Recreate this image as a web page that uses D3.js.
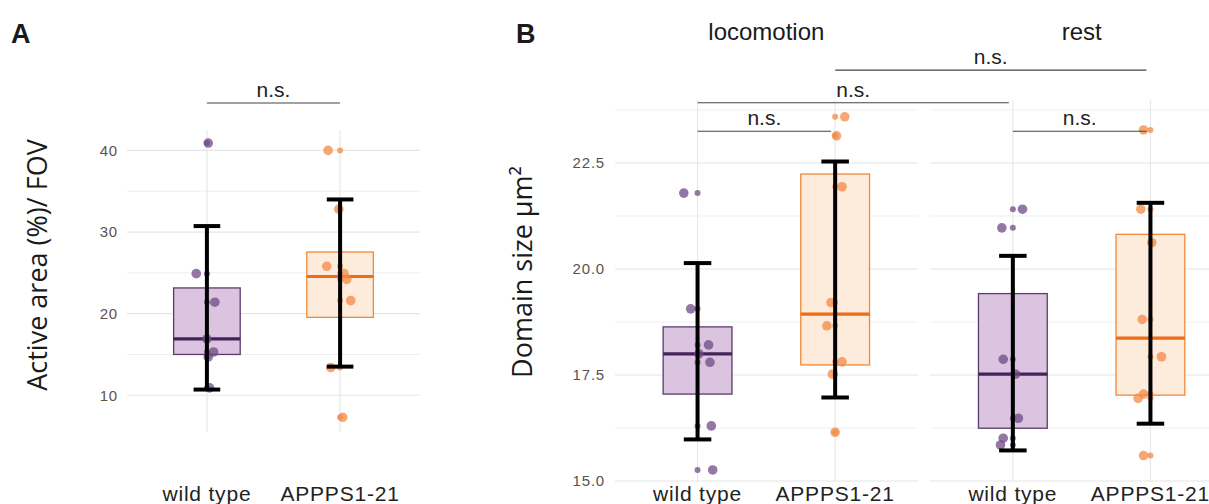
<!DOCTYPE html>
<html>
<head>
<meta charset="utf-8">
<script src="https://cdn.jsdelivr.net/npm/d3@7"></script>
<style>
  html, body { margin: 0; padding: 0; background: #fff; }
  svg { display: block; }
</style>
</head>
<body>
<svg id="chart" width="1209" height="504"></svg>
<script>
// ---------- DATA ----------
const groups = ["wild type", "APPPS1-21"];
const facets = ["locomotion", "rest"];

// Panel A: active area (%) / FOV
const activeWT  = [40.9, 24.9, 21.4, 16.9, 15.3, 14.7, 10.9];
const activeAPP = [40.0, 32.8, 25.8, 24.9, 24.2, 21.6, 13.4, 7.3];
// jitter of each point, in fractions of one category step
const jitActiveWT  = [0.01, -0.08, 0.06, 0.0, 0.05, 0.01, 0.02];
const jitActiveAPP = [-0.09, -0.01, -0.10, 0.03, 0.05, 0.08, -0.07, 0.02];

// Panel B: domain size (µm²)
const domainLocoWT  = [21.79, 19.06, 18.21, 18.0, 17.80, 16.30, 15.26];
const domainLocoAPP = [23.59, 23.14, 21.94, 19.21, 18.66, 17.81, 17.52, 16.15];
const domainRestWT  = [21.41, 20.97, 17.87, 17.52, 16.48, 16.01, 15.85];
const domainRestAPP = [23.28, 21.41, 20.62, 18.81, 17.93, 17.05, 16.95, 15.60];
const jitLocoWT  = [-0.10, -0.05, 0.08, 0.01, 0.09, 0.10, 0.11];
const jitLocoAPP = [0.07, 0.01, 0.05, -0.03, -0.06, 0.05, -0.02, 0.0];
const jitRestWT  = [0.07, -0.08, -0.07, 0.02, 0.04, -0.07, -0.09];
const jitRestAPP = [-0.05, -0.07, 0.01, -0.06, 0.08, -0.05, -0.09, -0.05];

// axis ticks
const ticksA = [10, 20, 30, 40];
const minorA = [15, 25, 35];
const ticksB = [15, 17.5, 20, 22.5];
const minorB = [16.25, 18.75, 21.25, 23.75];

// significance annotations
const sigA = [{ from: "wild type", to: "APPPS1-21", level: 45.8, label: "n.s." }];
const sigB = [
  { from: ["locomotion", "wild type"], to: ["locomotion", "APPPS1-21"], level: 23.25, label: "n.s." },
  { from: ["rest", "wild type"], to: ["rest", "APPPS1-21"], level: 23.25, label: "n.s." },
  { from: ["locomotion", "wild type"], to: ["rest", "wild type"], level: 23.92, label: "n.s." },
  { from: ["locomotion", "APPPS1-21"], to: ["rest", "APPPS1-21"], level: 24.69, label: "n.s." }
];

// ---------- STYLE ----------
const col = {
  "wild type": { fill: "#dbc4df", stroke: "#5a3b6c", median: "#44235a", point: "#6f4a85" },
  "APPPS1-21": { fill: "#fdebdb", stroke: "#f2883a", median: "#ee6c14", point: "#f28a45" }
};
const SANS = "'Liberation Sans', Arial, sans-serif";
const TITLE = "'Open Sans', sans-serif";

const svg = d3.select("#chart");

function stats(vals) {
  const s = vals.slice().sort(d3.ascending);
  const m = d3.mean(s), sd = d3.deviation(s);
  return {
    q1: d3.quantile(s, 0.25), med: d3.quantile(s, 0.5), q3: d3.quantile(s, 0.75),
    lo: m - sd, hi: m + sd
  };
}

function drawGrid(g, y, x0, x1, yTop, yBot, majors, minors, centers) {
  g.selectAll(null).data(minors).join("line")
    .attr("x1", x0).attr("x2", x1).attr("y1", d => y(d)).attr("y2", d => y(d))
    .attr("stroke", "#efefef").attr("stroke-width", 1);
  g.selectAll(null).data(majors).join("line")
    .attr("x1", x0).attr("x2", x1).attr("y1", d => y(d)).attr("y2", d => y(d))
    .attr("stroke", "#e6e6e6").attr("stroke-width", 1.2);
  g.selectAll(null).data(centers).join("line")
    .attr("x1", d => d).attr("x2", d => d).attr("y1", yTop).attr("y2", yBot)
    .attr("stroke", "#e8e8e8").attr("stroke-width", 1.2);
}

function drawGroup(g, y, cx, step, group, vals, jit) {
  const st = stats(vals);
  const c = col[group];
  const bw = step * 0.5, cw = step * 0.2;
  // box
  g.append("rect")
    .attr("x", cx - bw / 2).attr("width", bw)
    .attr("y", y(st.q3)).attr("height", y(st.q1) - y(st.q3))
    .attr("fill", c.fill).attr("stroke", c.stroke).attr("stroke-width", 1.3);
  g.append("line")
    .attr("x1", cx - bw / 2).attr("x2", cx + bw / 2)
    .attr("y1", y(st.med)).attr("y2", y(st.med))
    .attr("stroke", c.median).attr("stroke-width", 3.2);
  // points: a small one at centre, a larger jittered one
  g.selectAll(null).data(vals).join("circle")
    .attr("cx", cx).attr("cy", d => y(d)).attr("r", 3)
    .attr("fill", c.point).attr("fill-opacity", 0.75);
  g.selectAll(null).data(vals).join("circle")
    .attr("cx", (d, i) => cx + jit[i] * step).attr("cy", d => y(d)).attr("r", 4.8)
    .attr("fill", c.point).attr("fill-opacity", 0.75);
  // error bar (mean ± SD)
  g.append("line")
    .attr("x1", cx).attr("x2", cx).attr("y1", y(st.hi)).attr("y2", y(st.lo))
    .attr("stroke", "#000").attr("stroke-width", 4);
  [st.hi, st.lo].forEach(v => {
    g.append("line")
      .attr("x1", cx - cw / 2).attr("x2", cx + cw / 2).attr("y1", y(v)).attr("y2", y(v))
      .attr("stroke", "#000").attr("stroke-width", 4);
  });
}

function styleYAxis(ax) {
  ax.select(".domain").remove();
  ax.selectAll("text")
    .attr("font-family", SANS).attr("font-size", 15).attr("letter-spacing", 0.8)
    .attr("fill", "#5a5350");
}

function drawXLabels(g, x, yBase) {
  g.selectAll(null).data(groups).join("text")
    .attr("x", d => x(d)).attr("y", yBase)
    .attr("text-anchor", "middle")
    .attr("font-family", SANS).attr("font-size", 21).attr("letter-spacing", 0.8)
    .attr("fill", "#222").text(d => d);
}

function drawSig(g, xFrom, xTo, yLine, label) {
  g.append("line").attr("x1", xFrom).attr("x2", xTo).attr("y1", yLine).attr("y2", yLine)
    .attr("stroke", "#444").attr("stroke-width", 1.1);
  g.append("text").attr("x", (xFrom + xTo) / 2).attr("y", yLine - 6)
    .attr("text-anchor", "middle").attr("font-family", SANS).attr("font-size", 21)
    .attr("fill", "#222").text(label);
}

// ---------- PANEL A ----------
const A = svg.append("g");
const xA = d3.scalePoint().domain(groups).range([127, 420]).padding(0.6);
const yA = d3.scaleLinear().domain([5.5, 42.5]).range([432, 130]);
drawGrid(A, yA, 127, 420, 130, 432, ticksA, minorA, groups.map(d => xA(d)));
const axA = A.append("g").attr("transform", "translate(127,0)")
  .call(d3.axisLeft(yA).tickValues(ticksA).tickSize(0).tickPadding(9));
styleYAxis(axA);
drawGroup(A, yA, xA("wild type"), xA.step(), "wild type", activeWT, jitActiveWT);
drawGroup(A, yA, xA("APPPS1-21"), xA.step(), "APPPS1-21", activeAPP, jitActiveAPP);
drawXLabels(A, xA, 501);
sigA.forEach(s => drawSig(A, xA(s.from), xA(s.to), yA(s.level), s.label));
A.append("text").attr("transform", "translate(47,265) rotate(-90)")
  .attr("text-anchor", "middle").attr("font-family", TITLE).attr("font-size", 27)
  .attr("fill", "#1a1a1a").text("Active area (%)/ FOV");
A.append("text").attr("x", 11).attr("y", 43).attr("font-family", SANS)
  .attr("font-weight", "bold").attr("font-size", 27).attr("fill", "#1a1a1a").text("A");

// ---------- PANEL B ----------
const B = svg.append("g");
const fx = d3.scaleBand().domain(facets).range([615, 1233]).paddingInner(0.04);
const yB = d3.scaleLinear().domain([15, 24]).range([481, 99.4]);
const xB = {};
facets.forEach(f => {
  xB[f] = d3.scalePoint().domain(groups).range([fx(f), fx(f) + fx.bandwidth()]).padding(0.6);
});
const dataB = {
  locomotion: { "wild type": [domainLocoWT, jitLocoWT], "APPPS1-21": [domainLocoAPP, jitLocoAPP] },
  rest: { "wild type": [domainRestWT, jitRestWT], "APPPS1-21": [domainRestAPP, jitRestAPP] }
};
facets.forEach(f => {
  const x0 = fx(f), x1 = fx(f) + fx.bandwidth();
  drawGrid(B, yB, x0, x1, 100, 482, ticksB, minorB, groups.map(d => xB[f](d)));
});
const axB = B.append("g").attr("transform", "translate(615,0)")
  .call(d3.axisLeft(yB).tickValues(ticksB).tickFormat(d3.format(".1f")).tickSize(0).tickPadding(10));
styleYAxis(axB);
facets.forEach(f => {
  groups.forEach(gname => {
    const [vals, jit] = dataB[f][gname];
    drawGroup(B, yB, xB[f](gname), xB[f].step(), gname, vals, jit);
  });
  drawXLabels(B, xB[f], 501);
  B.append("text").attr("x", fx(f) + fx.bandwidth() / 2).attr("y", 40)
    .attr("text-anchor", "middle").attr("font-family", SANS).attr("font-size", 24)
    .attr("fill", "#1a1a1a").text(f);
});
sigB.forEach(s => drawSig(B, xB[s.from[0]](s.from[1]), xB[s.to[0]](s.to[1]) - 4, yB(s.level), s.label));
B.append("text").attr("transform", "translate(532,272) rotate(-90)")
  .attr("text-anchor", "middle").attr("font-family", TITLE).attr("font-size", 27)
  .attr("fill", "#1a1a1a").text("Domain size μm²");
B.append("text").attr("x", 516).attr("y", 43).attr("font-family", SANS)
  .attr("font-weight", "bold").attr("font-size", 27).attr("fill", "#1a1a1a").text("B");
</script>
</body>
</html>
